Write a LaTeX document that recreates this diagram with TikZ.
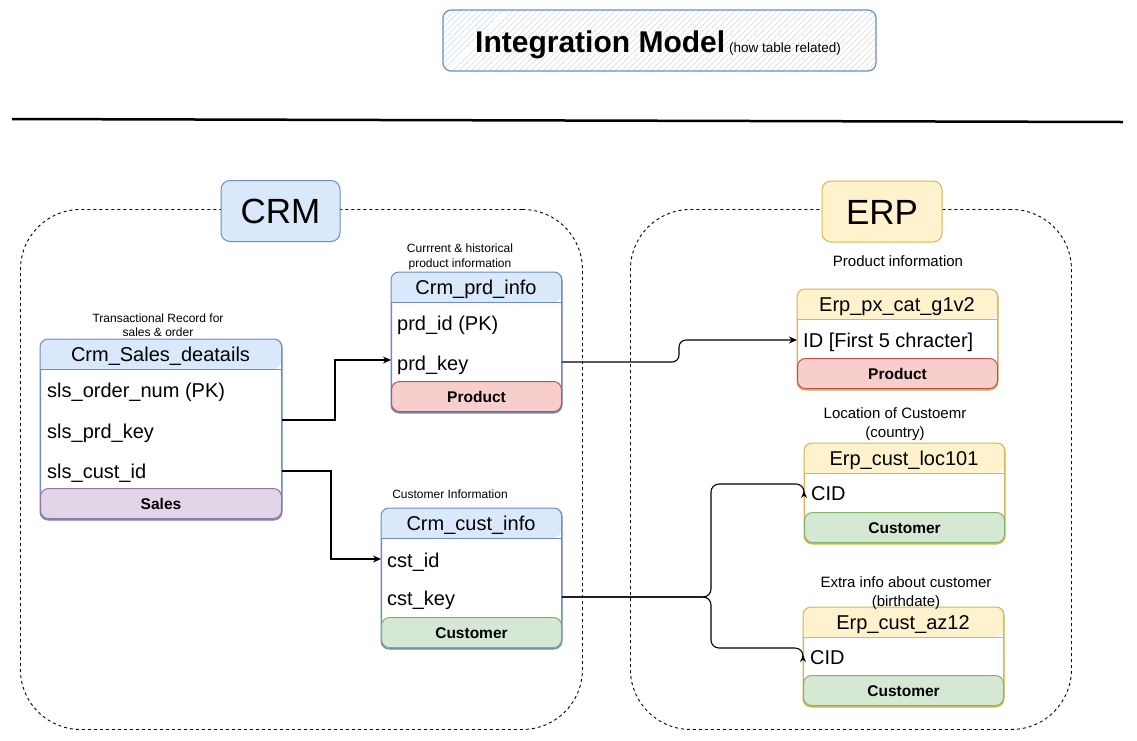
\documentclass[tikz,border=0pt]{standalone}
\usepackage{fontspec}
\setmainfont{Liberation Sans}
\usetikzlibrary{arrows.meta,patterns.meta,calc}
\definecolor{blueF}{HTML}{DAE8FC}\definecolor{blueD}{HTML}{6C8EBF}
\definecolor{yelF}{HTML}{FFF2CC}\definecolor{yelD}{HTML}{D6B656}
\definecolor{redF}{HTML}{F8CECC}\definecolor{redD}{HTML}{B85450}
\definecolor{grnF}{HTML}{D5E8D4}\definecolor{grnD}{HTML}{82B366}
\definecolor{purF}{HTML}{E1D5E7}\definecolor{purD}{HTML}{9673A6}
\tikzset{
 hdr/.style={font=\fontsize{20}{24}\selectfont, text height=16pt, text depth=2pt, inner sep=0pt},
 row/.style={font=\fontsize{20}{24}\selectfont, text height=16pt, text depth=2pt, inner sep=0pt, anchor=west},
 foot/.style={font=\fontsize{15.5}{18}\selectfont\bfseries, text height=12pt, text depth=1pt, inner sep=0pt, minimum height=30pt, rounded corners=8pt, line width=1pt},
 ann/.style={font=\fontsize{12}{14.5}\selectfont, align=center, inner sep=0pt},
 annb/.style={font=\fontsize{15}{18.5}\selectfont, align=center, inner sep=0pt},
 groupbox/.style={draw=black, dash pattern=on 3pt off 3pt, line width=0.9pt, rounded corners=60pt, inner sep=0pt},
 grouplabel/.style={font=\fontsize{35}{40}\selectfont, text height=25pt, text depth=0pt, minimum height=61pt, rounded corners=9pt, line width=1pt, inner sep=0pt},
 conn/.style={draw=black, line width=1.1pt, -{Stealth[length=8pt,width=7pt]}},
 connd/.style={draw=black, line width=1.1pt, -{Stealth[length=7pt,width=6pt]}},
}
\newcommand\erdtab[9]{%
 \node[draw=#6D, fill=white, rounded corners=8pt, line width=1pt, inner sep=0pt, minimum width={#3-#2}, minimum height={#5-#4}, anchor=north west] (#1) at (#2,#4) {};
 \fill[#6F] (#2,#4+30) [rounded corners=8pt] -- (#2,#4) -- (#3,#4) -- (#3,#4+30) [sharp corners] -- cycle;
 \draw[#6D, line width=1pt, rounded corners=8pt] (#1.north west) rectangle (#1.south east);
 \draw[#6D, line width=1pt] (#2,#4+30) -- (#3,#4+30);
 \node[hdr] (#1h) at ({(#2+#3)/2},#4+15) {#8};
 \node[foot, draw=#7D, fill=#7F, minimum width={#3-#2}, anchor=south west] (#1f) at (#2,#5) {#9};
}
\begin{document}
\begin{tikzpicture}[x=1pt,y=-1pt]
\fill[white] (0,0) rectangle (1137,740);
\useasboundingbox (0,0) rectangle (1137,740);
% title
\node[draw=blueD, line width=1.2pt, rounded corners=8pt, minimum width=433pt, minimum height=61pt, inner sep=0pt,
  pattern={Lines[angle=45,distance=4pt,line width=0.5pt]}, pattern color=blueD!45] (titlebox) at (659.5,40.5) {};
\node[anchor=base west, inner sep=0pt] (title) at (475,52) {{\fontsize{30}{36}\selectfont\bfseries Integration Model}\hspace{4pt}{\fontsize{13.5}{16}\selectfont (how table related)}};
\draw[line width=2.5pt] (12,119) -- (1123,122);
% groups
\node[groupbox, minimum width=562pt, minimum height=520pt, anchor=north west] (crmgrp) at (20,209) {};
\node[groupbox, minimum width=441pt, minimum height=520pt, anchor=north west] (erpgrp) at (630,209) {};
\node[grouplabel, draw=blueD, fill=blueF, minimum width=119pt] (crmlbl) at (280.5,211) {CRM};
\node[grouplabel, draw=yelD, fill=yelF, minimum width=120pt] (erplbl) at (882,211.5) {ERP};
% tables
\erdtab{sales}{40}{281}{339}{519}{blue}{pur}{Crm\_Sales\_deatails}{Sales}
\erdtab{prd}{391}{561}{272}{412}{blue}{red}{Crm\_prd\_info}{Product}
\erdtab{cust}{381}{561}{508}{648}{blue}{grn}{Crm\_cust\_info}{Customer}
\erdtab{px}{797}{997}{289}{389}{yel}{red}{Erp\_px\_cat\_g1v2}{Product}
\erdtab{loc}{804}{1004}{443}{543}{yel}{grn}{Erp\_cust\_loc101}{Customer}
\erdtab{az}{803}{1003}{607}{706}{yel}{grn}{Erp\_cust\_az12}{Customer}
% rows
\node[row] (s1) at (47,390) {sls\_order\_num (PK)};
\node[row] (s2) at (47,431) {sls\_prd\_key};
\node[row] (s3) at (47,471) {sls\_cust\_id};
\node[row] (p1) at (397,323) {prd\_id (PK)};
\node[row] (p2) at (397,363) {prd\_key};
\node[row] (c1) at (387,560) {cst\_id};
\node[row] (c2) at (387,598) {cst\_key};
\node[row] (x1) at (803,340) {ID [First 5 chracter]};
\node[row] (l1) at (811,493) {CID};
\node[row] (a1) at (810,657) {CID};
% notes
\node[ann] (salesnote) at (158,325) {Transactional Record for\\sales \& order};
\node[ann] (prdnote) at (460,257) {Currrent \& historical\\product information};
\node[ann] (custnote) at (450,494) {Customer Information};
\node[annb] (pxnote) at (898,261) {Product information};
\node[annb] (locnote) at (895,424) {Location of Custoemr\\(country)};
\node[annb] (aznote) at (906,593) {Extra info about customer\\(birthdate)};
% connectors
\draw[conn] ($(sales.east |- s2)+(0,-11)$) -| ($(prd.west |- p2)+(-56,-3)$) -- ($(prd.west |- p2)+(0,-3)$);
\draw[conn] (sales.east |- s3) -| ($(cust.west |- c1)+(-50,-1)$) -- ($(cust.west |- c1)+(0,-1)$);
\draw[conn, rounded corners=7pt] ($(prd.east |- p2)+(0,-1)$) -| ($(px.west |- x1)+(-118,0)$) -- (px.west |- x1);
\draw[connd, rounded corners=8pt] ($(cust.east |- c2)+(0,-1)$) -| ($(loc.west |- l1)+(-93,-9)$) -- ($(loc.west |- l1)+(0,-9)$) [sharp corners] -- ($(loc.west |- l1)+(0,-2)$);
\draw[connd, rounded corners=8pt] ($(cust.east |- c2)+(0,-1)$) -| ($(az.west |- a1)+(-92,-9)$) -- ($(az.west |- a1)+(0,-9)$) [sharp corners] -- ($(az.west |- a1)+(0,-2)$);
\end{tikzpicture}
\end{document}
